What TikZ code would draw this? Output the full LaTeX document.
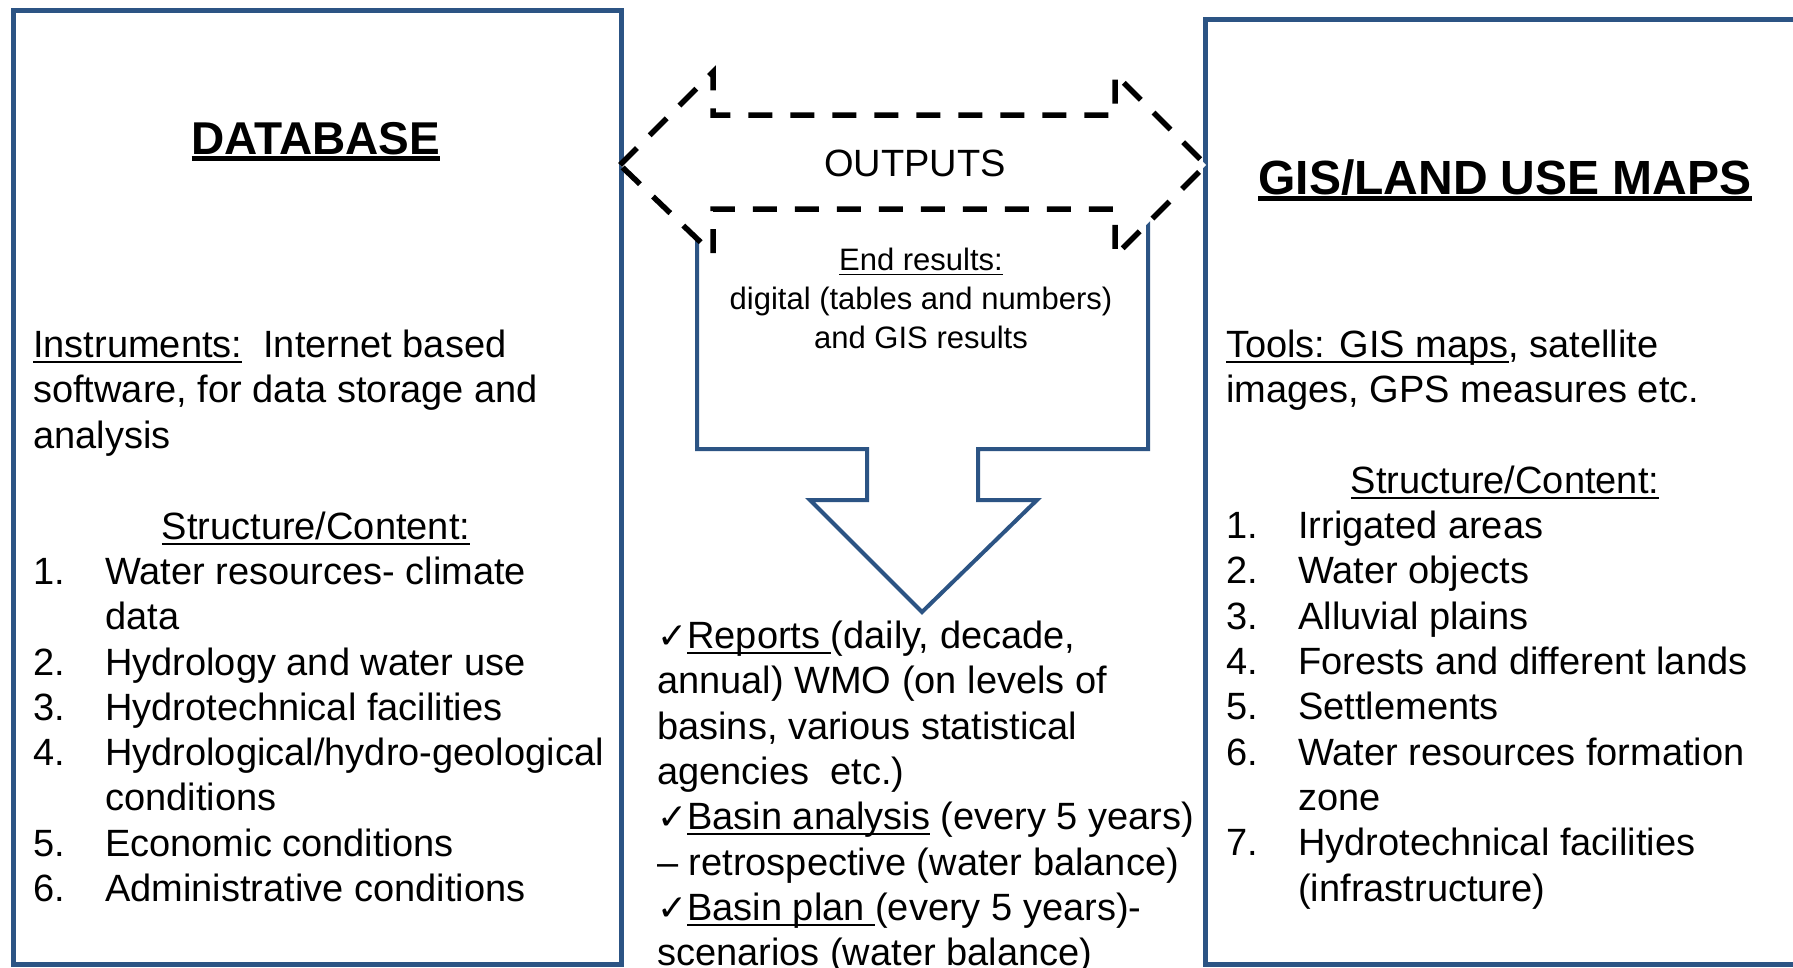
\documentclass[tikz,border=0pt]{standalone}
\usepackage{fontspec}
\setmainfont{Liberation Sans}
\newfontfamily\symfont{DejaVu Sans}
\definecolor{boxblue}{RGB}{44,84,132}
\newcommand\myul[1]{\setbox0\hbox{#1}\rlap{\rule[-0.17em]{\wd0}{0.055em}}\box0\relax}
\newcommand\myult[1]{\setbox0\hbox{#1}\rlap{\rule[-0.15em]{\wd0}{0.1em}}\box0\relax}
\newcommand\chk{{\symfont\fontsize{36}{36}\selectfont ✓}}
\begin{document}
\begin{tikzpicture}[x=1pt,y=-1pt,
  body/.style={anchor=base west, inner sep=0pt, font=\fontsize{38}{45}\selectfont},
  cbody/.style={anchor=base, inner sep=0pt, font=\fontsize{38}{45}\selectfont},
  small/.style={anchor=base, inner sep=0pt, font=\fontsize{31}{39}\selectfont},
  titleA/.style={anchor=base, inner sep=0pt, font=\bfseries\fontsize{46}{56}\selectfont},
  titleB/.style={anchor=base, inner sep=0pt, font=\bfseries\fontsize{48}{60}\selectfont},
  panel/.style={draw=boxblue, line width=5pt, fill=white},
  downarrow/.style={draw=boxblue, line width=4pt, fill=white, line join=miter},
  dasharrow/.style={draw=black, line width=5.5pt, fill=white, dash pattern=on 24pt off 18pt}]
\useasboundingbox (0,0) rectangle (1793,967);
\clip (0,0) rectangle (1793,967);
\fill[white] (0,0) rectangle (1793,967);
% panels
\draw[panel] (13,10) rectangle (621,964);
\draw[panel] (1205,19) rectangle (1830,964);
% down block arrow
\draw[downarrow] (697,200) -- (697,449) -- (867,449) -- (867,500) -- (810,500) -- (922,612)
  -- (1037,500) -- (978,500) -- (978,449) -- (1148,449) -- (1148,200) -- cycle;
% dashed double arrow
\draw[dasharrow] (620,165) -- (713,72) -- (713,115) -- (1115,115) -- (1115,74) -- (1206,165)
  -- (1115,256) -- (1115,209) -- (713,209) -- (713,254) -- cycle;
% titles
\node[titleA] (db) at (316,154) {\myult{DATABASE}};
\node[titleB] (gis) at (1505,194) {\myult{GIS/LAND USE MAPS}};
% left panel text
\node[body] (instr) at (33,357) {\myul{Instruments:}\ \ Internet based};
\node[body] (soft) at (33,402) {software, for data storage and};
\node[body] (anal) at (33,448) {analysis};
\node[cbody] (lsc) at (316,539) {\myul{Structure/Content:}};
\node[body] (ln1) at (33,584) {1.};
\node[body] (lt1) at (105,584) {Water resources- climate};
\node[body] (lt1b) at (105,629) {data};
\node[body] (ln2) at (33,675) {2.};
\node[body] (lt2) at (105,675) {Hydrology and water use};
\node[body] (ln3) at (33,720) {3.};
\node[body] (lt3) at (105,720) {Hydrotechnical facilities};
\node[body] (ln4) at (33,765) {4.};
\node[body] (lt4) at (105,765) {Hydrological/hydro-geological};
\node[body] (lt4b) at (105,810) {conditions};
\node[body] (ln5) at (33,856) {5.};
\node[body] (lt5) at (105,856) {Economic conditions};
\node[body] (ln6) at (33,901) {6.};
\node[body] (lt6) at (105,901) {Administrative conditions};
% middle text
\node[cbody] (out) at (915,176) {OUTPUTS};
\node[small] (endres) at (921,270) {\myul{End results:}};
\node[small] (digital) at (921,309) {digital (tables and numbers)};
\node[small] (gisres) at (921,348) {and GIS results};
\node[body] (m1) at (657,648) {\chk\myul{Reports }(daily, decade,};
\node[body] (m2) at (657,693) {annual) WMO (on levels of};
\node[body] (m3) at (657,739) {basins, various statistical};
\node[body] (m4) at (657,784) {agencies\ \ etc.)};
\node[body] (m5) at (657,829) {\chk\myul{Basin analysis} (every 5 years)};
\node[body] (m6) at (657,875) {– retrospective (water balance)};
\node[body] (m7) at (657,920) {\chk\myul{Basin plan }(every 5 years)-};
\node[body] (m8) at (657,965) {scenarios (water balance)};
% right panel text
\node[body] (tools) at (1226,357) {\myul{Tools: GIS maps}, satellite};
\node[body] (images) at (1226,402) {images, GPS measures etc.};
\node[cbody] (rsc) at (1505,493) {\myul{Structure/Content:}};
\node[body] (rn1) at (1226,538) {1.};
\node[body] (rt1) at (1298,538) {Irrigated areas};
\node[body] (rn2) at (1226,583) {2.};
\node[body] (rt2) at (1298,583) {Water objects};
\node[body] (rn3) at (1226,629) {3.};
\node[body] (rt3) at (1298,629) {Alluvial plains};
\node[body] (rn4) at (1226,674) {4.};
\node[body] (rt4) at (1298,674) {Forests and different lands};
\node[body] (rn5) at (1226,719) {5.};
\node[body] (rt5) at (1298,719) {Settlements};
\node[body] (rn6) at (1226,765) {6.};
\node[body] (rt6) at (1298,765) {Water resources formation};
\node[body] (rt6b) at (1298,810) {zone};
\node[body] (rn7) at (1226,855) {7.};
\node[body] (rt7) at (1298,855) {Hydrotechnical facilities};
\node[body] (rt7b) at (1298,901) {(infrastructure)};
\end{tikzpicture}
\end{document}
